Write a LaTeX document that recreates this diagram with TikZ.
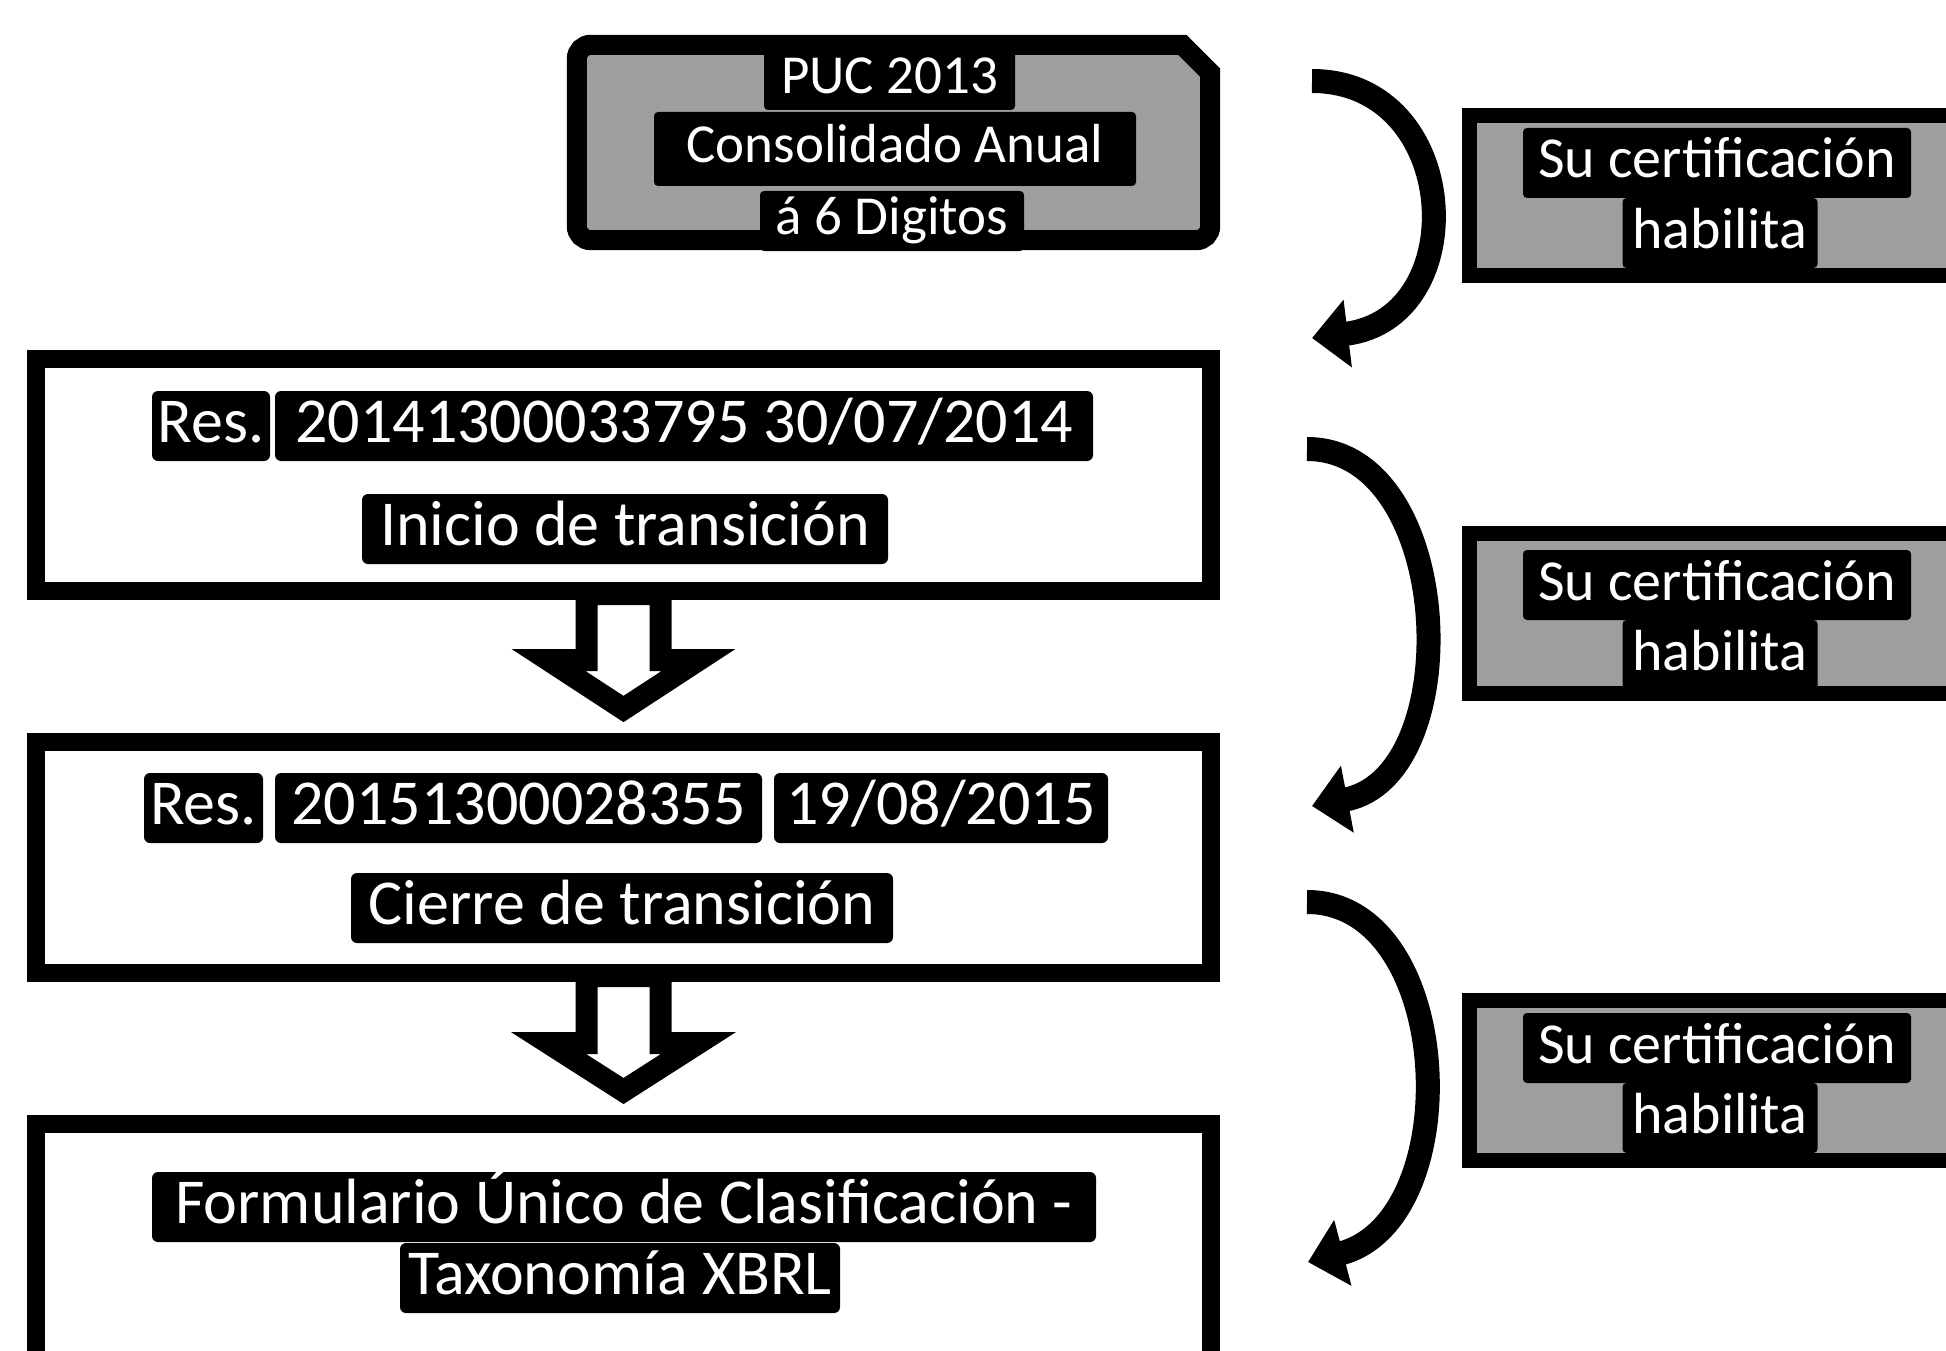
\documentclass[tikz,border=0pt]{standalone}
\usepackage{fontspec}
\setmainfont{Carlito}
\usetikzlibrary{arrows.meta,calc}
\begin{document}
\begin{tikzpicture}[x=1pt,y=-1pt,
  mainbox/.style={draw=black, line width=18pt, fill=white, minimum width=1175pt, inner sep=0pt},
  topframe/.style={draw=black, line width=20pt, fill=black!38},
  sidebox/.style={draw=black, line width=15pt, fill=black!38, minimum width=600pt, minimum height=160pt, inner sep=0pt},
  hlmain/.style={fill=black, text=white, rounded corners=6pt, inner xsep=0pt, inner ysep=0pt, text height=45pt, text depth=13pt, minimum height=70pt, font=\fontsize{64}{70}\selectfont},
  hltop/.style={fill=black, text=white, rounded corners=4pt, inner xsep=0pt, inner ysep=0pt, text height=40pt, text depth=12pt, font=\fontsize{55}{60}\selectfont},
  hlside/.style={fill=black, text=white, rounded corners=4pt, inner xsep=0pt, inner ysep=0pt, text height=42pt, text depth=12pt, font=\fontsize{58}{62}\selectfont},
  blockarrow/.style={draw=black, line width=22pt, fill=white, line join=miter},
  curvearrow/.style={draw=black, line width=24pt, line cap=butt, -{Triangle[width=66pt,length=36pt]}}
]
\clip (0,0) rectangle (1946,1351);
\fill[white] (0,0) rectangle (1946,1351);

% top box (chamfered top-right corner)
\node[minimum width=633pt, minimum height=195pt, inner sep=0pt] (puc) at (893.5,142.5) {};
\draw[topframe, rounded corners=14pt] ([xshift=-28pt]puc.north east) -- (puc.north west) -- (puc.south west) -- (puc.south east) [sharp corners] -- ([yshift=-28pt]puc.north east) -- cycle;
\node[hltop, minimum width=251pt, minimum height=60pt] (t1) at (889.5,80) {PUC 2013};
\node[hltop, minimum width=482pt, minimum height=74pt] (t2) at (895,149) {Consolidado Anual};
\node[hltop, minimum width=264pt, minimum height=60pt] (t3) at (892,221) {á 6 Digitos};

% main boxes
\node[mainbox, minimum height=232pt] (box2) at (623.5,475) {};
\node[mainbox, minimum height=231pt] (box3) at (623.5,857.5) {};
\node[mainbox, minimum height=400pt] (box4) at (623.5,1324) {};

\node[hlmain, minimum width=118pt] (b2a) at (211,426) {Res.};
\node[hlmain, minimum width=818pt] (b2b) at (684,426) {20141300033795 30/07/2014};
\node[hlmain, minimum width=526pt] (b2c) at (625,529) {Inicio de transición};

\node[hlmain, minimum width=119pt] (b3a) at (203.5,808) {Res.};
\node[hlmain, minimum width=487pt] (b3b) at (518.5,808) {20151300028355};
\node[hlmain, minimum width=334pt] (b3c) at (941,808) {19/08/2015};
\node[hlmain, minimum width=542pt] (b3d) at (622,908) {Cierre de transición};

\node[hlmain, minimum width=944pt] (b4a) at (624,1207) {Formulario Único de Clasificación -};
\node[hlmain, minimum width=440pt] (b4b) at (620,1278) {Taxonomía XBRL};

% block arrows
\draw[blockarrow]
  ($(box2.south)+(-37,-6)$) -- ($(box2.south)+(-37,60)$) -- ($(box2.south)+(-75,60)$)
  -- ($(box3.north)+(0,-24)$)
  -- ($(box2.south)+(75,60)$) -- ($(box2.south)+(37,60)$) -- ($(box2.south)+(37,-6)$) -- cycle;
\draw[blockarrow]
  ($(box3.south)+(-37,-6)$) -- ($(box3.south)+(-37,61)$) -- ($(box3.south)+(-75,61)$)
  -- ($(box4.north)+(0,-24)$)
  -- ($(box3.south)+(75,61)$) -- ($(box3.south)+(37,61)$) -- ($(box3.south)+(37,-6)$) -- cycle;

% side boxes
\node[sidebox] (s1) at (1769.5,195.5) {};
\node[sidebox] (s2) at (1769.5,613.5) {};
\node[sidebox] (s3) at (1769.5,1080.5) {};
\node[hlside, minimum width=388pt, minimum height=70pt] (s1a) at (1717,163) {Su certificación};
\node[hlside, minimum width=195pt, minimum height=70pt] (s1b) at (1720,233) {habilita};
\node[hlside, minimum width=388pt, minimum height=70pt] (s2a) at (1717,585) {Su certificación};
\node[hlside, minimum width=195pt, minimum height=70pt] (s2b) at (1720,655) {habilita};
\node[hlside, minimum width=388pt, minimum height=70pt] (s3a) at (1717,1048) {Su certificación};
\node[hlside, minimum width=195pt, minimum height=70pt] (s3b) at (1720,1118) {habilita};

% curved arrows
\coordinate (c1s) at (1312,81);
\coordinate (c1e) at (1312,338);
\coordinate (c2s) at (1307,449);
\coordinate (c2e) at (1312,806);
\coordinate (c3s) at (1307,902);
\coordinate (c3e) at (1308,1262);
\draw[curvearrow] (c1s) .. controls (1462,81) and (1474,318) .. (c1e);
\draw[curvearrow] (c2s) .. controls (1455,449) and (1468,776) .. (c2e);
\draw[curvearrow] (c3s) .. controls (1455,902) and (1468,1220) .. (c3e);
\end{tikzpicture}
\end{document}
